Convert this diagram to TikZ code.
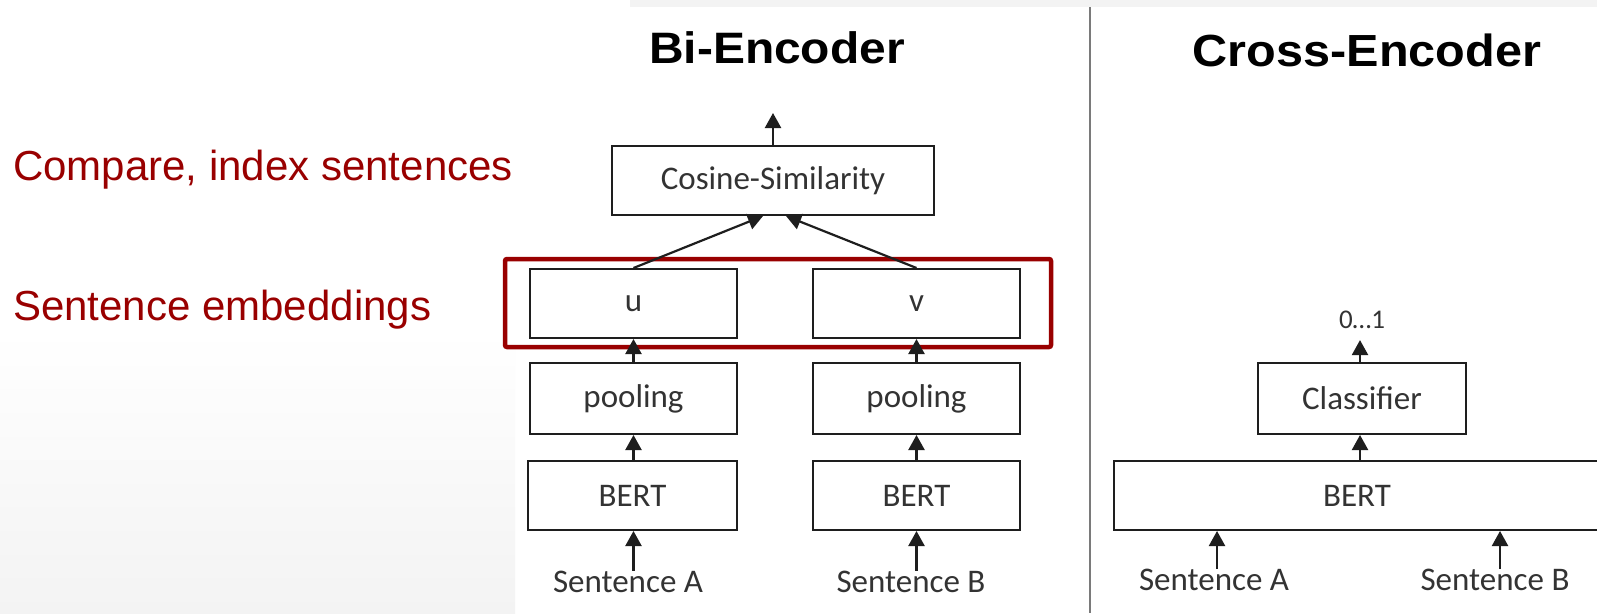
\documentclass[tikz,border=0pt]{standalone}
\usepackage{fontspec}
\usepackage{graphicx}
\setmainfont{Carlito}
\newfontfamily\headfont{Liberation Sans}
\usetikzlibrary{arrows.meta}
\definecolor{darkred}{HTML}{990000}
\definecolor{boxline}{HTML}{1E1E1E}
\definecolor{boxtext}{HTML}{333333}
\definecolor{rule}{HTML}{7A7A7A}
\definecolor{paper}{HTML}{F3F3F3}
\begin{document}
\begin{tikzpicture}[x=1pt,y=-1pt,
  blk/.style={draw=boxline, line width=2pt, fill=white, inner sep=0pt,
    text=boxtext, font=\fontsize{33}{38}\selectfont},
  lbl/.style={inner sep=0pt, text=boxtext, font=\fontsize{33}{38}\selectfont},
  flow/.style={-{Triangle[width=16pt,length=15pt]}, line width=2.2pt, draw=boxline},
  heading/.style={inner sep=0pt, font=\headfont\bfseries\fontsize{44}{50}\selectfont},
  note/.style={anchor=base west, inner sep=0pt, text=darkred,
    font=\headfont\fontsize{42}{48}\selectfont}]

% canvas
\useasboundingbox (0,0) rectangle (1597,613);
\fill[white] (0,0) rectangle (1597,613);
\fill[paper] (630,0) rectangle (1597,7);
\shade[top color=white, bottom color=paper] (0,330) rectangle (515,613);

% side notes
\node[note] (cmp) at (13,180) {Compare, index sentences};
\node[note] (emb) at (13,320) {Sentence embeddings};

% headings
\node[heading] (bi) at (777,47.5) {\scalebox{1.09}[1]{Bi-Encoder}};
\node[heading, font=\headfont\bfseries\fontsize{45}{50}\selectfont] (cross) at (1367,50)
  {\scalebox{1.08}[1]{Cross-Encoder}};

% divider between the two architectures
\draw[rule, line width=2.5pt] (1090,7) -- (1090,613);

% ---- Bi-Encoder ----
\node[draw=darkred, line width=4.5pt, rounded corners=2pt, inner sep=0pt,
      minimum width=546pt, minimum height=88pt] (frame) at (778,303) {};

\node[blk, minimum width=322pt, minimum height=69pt] (cos) at (773,180.5) {Cosine-Similarity};
\coordinate (cosout) at (773,113);

\node[blk, minimum width=207pt, minimum height=69pt] (u) at (633.5,303.5) {u};
\node[blk, minimum width=207pt, minimum height=69pt] (v) at (916.5,303.5) {v};
\node[blk, minimum width=207pt, minimum height=71pt] (poolA) at (633.5,398.5) {pooling};
\node[blk, minimum width=207pt, minimum height=71pt] (poolB) at (916.5,398.5) {pooling};
\node[blk, minimum width=209pt, minimum height=69pt] (bertA) at (632.5,495.5) {BERT};
\node[blk, minimum width=207pt, minimum height=69pt] (bertB) at (916.5,495.5) {BERT};
\node[lbl] (sa) at (628,582) {Sentence A};
\node[lbl] (sb) at (911,582) {Sentence B};

\draw[flow] (cos.north) -- (cosout);
\draw[flow] (u.north) -- ([xshift=-10pt]cos.south);
\draw[flow] (v.north) -- ([xshift=13pt]cos.south);
\draw[flow] (poolA.north) -- (u.south);
\draw[flow] (poolB.north) -- (v.south);
\draw[flow] (bertA.north -| u.south) -- (poolA.south);
\draw[flow] (bertB.north) -- (poolB.south);
\draw[flow] (u.south |- sa.north) -- (u.south |- bertA.south);
\draw[flow] (v.south |- sb.north) -- (bertB.south);

% ---- Cross-Encoder ----
\node[lbl, font=\fontsize{27}{30}\selectfont] (score) at (1362,320) {0…1};
\node[blk, minimum width=208pt, minimum height=71pt] (cls) at (1362,398.5) {Classifier};
\node[blk, minimum width=486pt, minimum height=69pt] (bertX) at (1357,495.5) {BERT};
\node[lbl] (xa) at (1214,580) {Sentence A};
\node[lbl] (xb) at (1495,580) {Sentence B};

\draw[flow] ([xshift=-2pt]cls.north) -- ([xshift=-2pt, yshift=-11pt]score.south);
\draw[flow] ([xshift=-2pt]cls.south |- bertX.north) -- ([xshift=-2pt]cls.south);
\draw[flow] ([xshift=3pt]xa.north) -- ([xshift=3pt]xa.north |- bertX.south);
\draw[flow] ([xshift=5pt]xb.north) -- ([xshift=5pt]xb.north |- bertX.south);
\end{tikzpicture}
\end{document}
